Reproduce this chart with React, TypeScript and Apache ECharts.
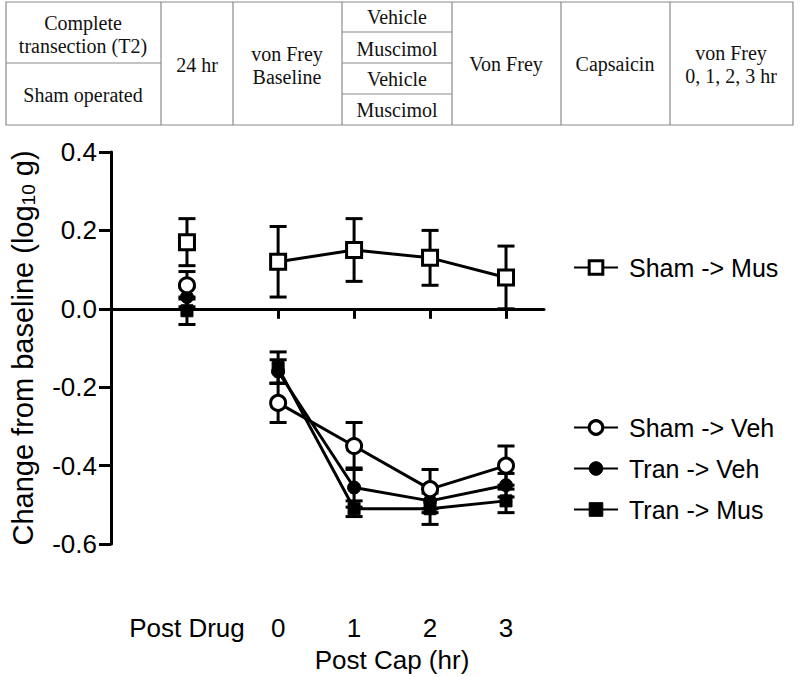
import React, { useEffect, useRef } from 'react';
import * as echarts from 'echarts';

// ---------- data ----------
const seriesNames = ['Sham -> Mus', 'Sham -> Veh', 'Tran -> Veh', 'Tran -> Mus'];
const postCapHours = [0, 1, 2, 3];
const postDrugX = -1.2;

const shamMusMean = [0.12, 0.15, 0.13, 0.08];
const shamMusSem = [0.09, 0.08, 0.07, 0.08];
const shamVehMean = [-0.24, -0.35, -0.46, -0.4];
const shamVehSem = [0.05, 0.06, 0.05, 0.05];
const tranVehMean = [-0.16, -0.456, -0.49, -0.45];
const tranVehSem = [0.03, 0.05, 0.03, 0.03];
const tranMusMean = [-0.15, -0.51, -0.51, -0.49];
const tranMusSem = [0.04, 0.02, 0.04, 0.03];

// Post Drug values, order as seriesNames
const postDrugMean = [0.17, 0.06, 0.03, -0.005];
const postDrugSem = [0.06, 0.035, 0.025, 0.035];

const xTickValues = [-1.2, 0, 1, 2, 3];
const xTickLabels = ['Post Drug', '0', '1', '2', '3'];
const xAxisTitle = 'Post Cap (hr)';

// table texts
const groupTexts = ['Complete\ntransection (T2)', 'Sham operated'];
const waitText = '24 hr';
const baselineText = 'von Frey\nBaseline';
const drugTexts = ['Vehicle', 'Muscimol', 'Vehicle', 'Muscimol'];
const vonFreyText = 'Von Frey';
const capText = 'Capsaicin';
const finalText = 'von Frey\n0, 1, 2, 3 hr';

const means = [shamMusMean, shamVehMean, tranVehMean, tranMusMean];
const sems = [shamMusSem, shamVehSem, tranVehSem, tranMusSem];

const SANS = '"Liberation Sans", Arial, sans-serif';
const SERIF = '"Liberation Serif", "Times New Roman", serif';

const markerStyles = [
  { symbol: 'rect', size: 15, itemStyle: { color: '#fff', borderColor: '#000', borderWidth: 3, opacity: 1 } },
  { symbol: 'circle', size: 15, itemStyle: { color: '#fff', borderColor: '#000', borderWidth: 3, opacity: 1 } },
  { symbol: 'circle', size: 13, itemStyle: { color: '#000', borderColor: '#000', borderWidth: 1, opacity: 1 } },
  { symbol: 'rect', size: 12, itemStyle: { color: '#000', borderColor: '#000', borderWidth: 1, opacity: 1 } },
];

function buildTable(): any[] {
  const L = 6, R = 793, T = 2, B = 125;
  const cols = [161, 233, 342, 452, 561, 670];
  const stroke = '#8a8a8a';
  const els: any[] = [];
  els.push({ type: 'rect', shape: { x: L, y: T, width: R - L, height: B - T }, style: { fill: 'none', stroke, lineWidth: 1.2 } });
  cols.forEach((c) => els.push({ type: 'line', shape: { x1: c, y1: T, x2: c, y2: B }, style: { stroke, lineWidth: 1.2 } }));
  els.push({ type: 'line', shape: { x1: L, y1: 63, x2: 161, y2: 63 }, style: { stroke, lineWidth: 1.2 } });
  [32, 63, 94].forEach((y) => els.push({ type: 'line', shape: { x1: 342, y1: y, x2: 452, y2: y }, style: { stroke, lineWidth: 1.2 } }));
  const txt = (x: number, y: number, text: string) => ({
    type: 'text', x, y,
    style: { text, fill: '#111', fontSize: 20, fontFamily: SERIF, align: 'center', verticalAlign: 'middle', lineHeight: 23 },
  });
  els.push(txt(83, 34.5, groupTexts[0]));
  els.push(txt(83, 95, groupTexts[1]));
  els.push(txt(197, 65, waitText));
  els.push(txt(287, 65, baselineText));
  [17, 48.5, 79, 110].forEach((y, i) => els.push(txt(397, y, drugTexts[i])));
  els.push(txt(506, 64, vonFreyText));
  els.push(txt(615, 64, capText));
  els.push(txt(731, 64.5, finalText));
  return els;
}

export default function App() {
  const ref = useRef<HTMLDivElement>(null);
  useEffect(() => {
    if (!ref.current) return;
    const chart = echarts.init(ref.current, null, { renderer: 'svg' });

    const errData: any[] = [];
    means.forEach((m, si) => {
      m.forEach((v, i) => errData.push([postCapHours[i], v - sems[si][i], v + sems[si][i]]));
      errData.push([postDrugX, postDrugMean[si] - postDrugSem[si], postDrugMean[si] + postDrugSem[si]]);
    });

    const errSeries = {
      type: 'custom',
      name: 'err',
      z: 1,
      silent: true,
      xAxisIndex: 0,
      yAxisIndex: 0,
      encode: { x: 0, y: [1, 2] },
      data: errData,
      renderItem: (params: any, api: any) => {
        const x = api.value(0);
        const pLo = api.coord([x, api.value(1)]);
        const pHi = api.coord([x, api.value(2)]);
        const w = 8.5;
        const st = { stroke: '#000', lineWidth: 3 };
        return {
          type: 'group',
          children: [
            { type: 'line', shape: { x1: pHi[0], y1: pHi[1], x2: pLo[0], y2: pLo[1] }, style: st },
            { type: 'line', shape: { x1: pHi[0] - w, y1: pHi[1], x2: pHi[0] + w, y2: pHi[1] }, style: st },
            { type: 'line', shape: { x1: pLo[0] - w, y1: pLo[1], x2: pLo[0] + w, y2: pLo[1] }, style: st },
          ],
        };
      },
    };

    const order = [3, 2, 1, 0];
    const lineSeries = order.map((si) => ({
      type: 'line',
      name: seriesNames[si],
      z: 3,
      data: means[si].map((v, i) => [postCapHours[i], v]),
      symbol: markerStyles[si].symbol,
      symbolSize: markerStyles[si].size,
      itemStyle: markerStyles[si].itemStyle,
      lineStyle: { color: '#000', width: 3 },
      color: '#000',
      showAllSymbol: true,
    }));
    const pdSeries = order.map((si) => ({
      type: 'scatter',
      name: seriesNames[si] + ' (Post Drug)',
      z: 3,
      data: [[postDrugX, postDrugMean[si]]],
      symbol: markerStyles[si].symbol,
      symbolSize: markerStyles[si].size,
      itemStyle: markerStyles[si].itemStyle,
    }));

    const legendText = { color: '#000', fontSize: 25, fontFamily: SANS, padding: [0, 0, 0, 6] };
    const legendItem = (si: number) => ({
      name: seriesNames[si],
      itemStyle: markerStyles[si].itemStyle,
    });

    chart.setOption({
      animation: false,
      backgroundColor: '#fff',
      textStyle: { fontFamily: SANS },
      grid: { left: 109, right: 256, top: 152, bottom: 133, containLabel: false },
      xAxis: [
        {
          type: 'value',
          min: -2.2,
          max: 3.5,
          axisLine: { show: true, onZero: true, lineStyle: { color: '#000', width: 3 } },
          axisTick: { show: true, customValues: postCapHours, length: 10, lineStyle: { color: '#000', width: 3 } },
          axisLabel: { show: false },
          splitLine: { show: false },
        },
        {
          type: 'value',
          min: -2.2,
          max: 3.5,
          position: 'bottom',
          axisLine: { show: false, onZero: false },
          axisTick: { show: false },
          splitLine: { show: false },
          axisLabel: {
            show: true,
            customValues: xTickValues,
            margin: 71,
            color: '#000',
            fontSize: 26,
            fontFamily: SANS,
            formatter: (v: number) => {
              const idx = xTickValues.findIndex((t) => Math.abs(t - v) < 1e-6);
              return idx >= 0 ? xTickLabels[idx] : '';
            },
          },
        },
      ],
      yAxis: {
        type: 'value',
        min: -0.6,
        max: 0.4,
        interval: 0.2,
        name: 'Change from baseline (log{sub|10} g)',
        nameLocation: 'middle',
        nameGap: 73,
        nameRotate: 90,
        nameTextStyle: {
          color: '#000',
          fontSize: 29,
          fontFamily: SANS,
          rich: { sub: { fontSize: 19, fontFamily: SANS, color: '#000', verticalAlign: 'bottom', padding: [12, 0, 0, 0] } },
        },
        axisLine: { show: true, onZero: false, lineStyle: { color: '#000', width: 3 } },
        axisTick: { show: true, length: 12, lineStyle: { color: '#000', width: 3 } },
        axisLabel: {
          color: '#000',
          fontSize: 26,
          fontFamily: SANS,
          margin: 14,
          formatter: (v: number) => (Math.abs(v) < 1e-9 ? '0.0' : v.toFixed(1)),
        },
        splitLine: { show: false },
      },
      legend: [
        {
          data: [legendItem(0)],
          left: 568,
          top: 250,
          itemWidth: 44,
          itemHeight: 17,
          selectedMode: false,
          textStyle: legendText,
        },
        {
          data: [legendItem(1), legendItem(2), legendItem(3)],
          orient: 'vertical',
          left: 568,
          top: 410,
          itemGap: 16,
          itemWidth: 44,
          itemHeight: 17,
          selectedMode: false,
          textStyle: legendText,
        },
      ],
      graphic: [
        ...buildTable(),
        {
          type: 'text',
          x: 392,
          y: 660,
          style: { text: xAxisTitle, fill: '#000', fontSize: 26, fontFamily: SANS, align: 'center', verticalAlign: 'middle' },
        },
      ],
      series: [errSeries, ...lineSeries, ...pdSeries],
    });

    return () => chart.dispose();
  }, []);

  return <div ref={ref} style={{ position: 'absolute', left: 0, top: 0, width: 800, height: 677 }} />;
}
